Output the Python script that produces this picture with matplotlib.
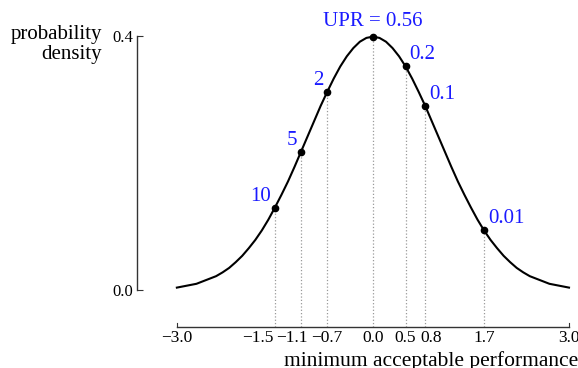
import matplotlib
matplotlib.use("Agg")
import matplotlib.pyplot as plt
from matplotlib.transforms import ScaledTranslation

plt.rcParams['font.family'] = ['Liberation Serif', 'DejaVu Serif']

curve_x = [round(-3.0 + 0.1 * i, 1) for i in range(61)]
curve_y = [0.004, 0.006, 0.008, 0.010, 0.014, 0.018, 0.022, 0.028, 0.035, 0.044,
           0.054, 0.066, 0.079, 0.094, 0.111, 0.130, 0.150, 0.171, 0.194, 0.218,
           0.242, 0.266, 0.290, 0.312, 0.333, 0.352, 0.368, 0.381, 0.391, 0.397,
           0.399,
           0.397, 0.391, 0.381, 0.368, 0.352, 0.333, 0.312, 0.290, 0.266, 0.242,
           0.218, 0.194, 0.171, 0.150, 0.130, 0.111, 0.094, 0.079, 0.066, 0.054,
           0.044, 0.035, 0.028, 0.022, 0.018, 0.014, 0.010, 0.008, 0.006, 0.004]

# marked thresholds and their labels
point_x = [-1.5, -1.1, -0.7, 0.0, 0.5, 0.8, 1.7]
point_y = [0.130, 0.218, 0.312, 0.399, 0.352, 0.290, 0.094]
point_labels = ['10', '5', '2', 'UPR = 0.56', '0.2', '0.1', '0.01']
label_side = ['left', 'left', 'left', 'top', 'right', 'right', 'right']

xticks = [-3.0, -1.5, -1.1, -0.7, 0.0, 0.5, 0.8, 1.7, 3.0]
# horizontal nudges (pixels) so crowded tick labels don't collide
xtick_nudge = [0, -17, -9, 0, 0, 0, 6, 0, 0]
yticks = [0.0, 0.4]

fig = plt.figure(figsize=(5.78, 3.68), dpi=100)
ax = fig.add_axes([137 / 578, 41 / 368, 432 / 578, 291 / 368])
ax.set_xlim(-3.61, 3.0)
ax.set_ylim(-0.058, 0.4)

ax.plot(curve_x, curve_y, color='black', lw=1.5, clip_on=False)
ax.vlines(point_x, -0.058, point_y, colors='#999999', linestyles=':', lw=0.9)
ax.plot(point_x, point_y, 'o', color='black', ms=4.5, clip_on=False, zorder=3)

for x, y, text, side in zip(point_x, point_y, point_labels, label_side):
    if side == 'left':
        kw = dict(xytext=(-4, 2), ha='right', va='bottom')
    elif side == 'right':
        kw = dict(xytext=(4, 2), ha='left', va='bottom')
    else:
        kw = dict(xytext=(0, 6), ha='center', va='bottom')
    ax.annotate(text, (x, y), textcoords='offset pixels', color='#1a1aff',
                fontsize=15, annotation_clip=False, **kw)

for side in ['top', 'right']:
    ax.spines[side].set_visible(False)
ax.spines['left'].set_bounds(0.0, 0.4)
ax.spines['bottom'].set_bounds(-3.0, 3.0)
for side in ['left', 'bottom']:
    ax.spines[side].set_color('#333333')
    ax.spines[side].set_linewidth(1.0)

ax.set_xticks(xticks)
ax.set_xticklabels([f'{t:.1f}'.replace('-', '\u2212') for t in xticks])
ax.set_yticks(yticks)
ax.set_yticklabels([f'{t:.1f}' for t in yticks])
ax.tick_params(axis='y', direction='in', length=4, width=0.8, color='#333333', labelsize=12, pad=3)
ax.tick_params(axis='x', length=0, labelsize=12.5, pad=2)
for lbl, dx in zip(ax.get_xticklabels(), xtick_nudge):
    lbl.set_transform(lbl.get_transform() + ScaledTranslation(dx / 100, 0, fig.dpi_scale_trans))
for t in [-3.0, 3.0]:
    ax.plot([t, t], [-0.058, -0.052], color='#333333', lw=0.8, clip_on=False)

fig.text(102 / 578, 1 - 25 / 368, 'probability\ndensity', ha='right', va='top',
         multialignment='right', fontsize=15, linespacing=1.05)
fig.text(1.0, 2 / 368, 'minimum acceptable performance', ha='right', va='baseline', fontsize=15.5)

fig.savefig('out.png', dpi=100)
